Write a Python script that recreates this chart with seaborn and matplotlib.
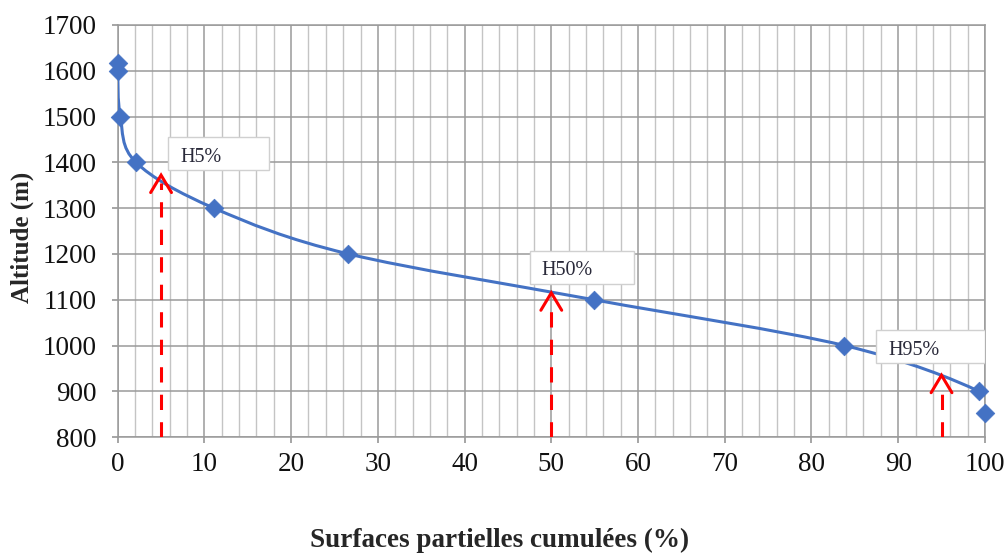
import matplotlib
matplotlib.use("Agg")
import matplotlib.pyplot as plt
import seaborn as sns
import pandas as pd
import numpy as np
from matplotlib.ticker import MultipleLocator
from matplotlib.path import Path
from matplotlib.patches import PathPatch

# Data
surface_pct = [0.0, 0.0, 0.3, 2.1, 11.1, 26.6, 54.9, 83.8, 99.3, 100.0]
altitude_m = [1617, 1600, 1500, 1400, 1300, 1200, 1100, 1000, 900, 852]
marker_labels = ["H5%", "H50%", "H95%"]
marker_x = [5, 50, 95]
marker_top = [1372, 1115, 935]
label_box_x = [5.8, 47.5, 87.5]
label_box_y = [1383, 1135, 962]

sns.set_theme(style="white")
plt.rcParams["font.family"] = ["Liberation Serif", "DejaVu Serif"]

fig = plt.figure(figsize=(10.06, 5.54), dpi=100)
ax = fig.add_axes([0.117, 0.211, 0.862, 0.744])

df = pd.DataFrame({"x": surface_pct, "y": altitude_m})

# smoothed line (Excel-style cubic Bezier through the data points)
pts = df[["x", "y"]].to_numpy(dtype=float)
n = len(pts)
verts = [tuple(pts[0])]
codes = [Path.MOVETO]
for i in range(n - 1):
    p0 = pts[i - 1] if i > 0 else pts[i]
    p1 = pts[i]
    p2 = pts[i + 1]
    p3 = pts[i + 2] if i + 2 < n else pts[i + 1]
    c1 = p1 + (p2 - p0) / 6.0
    c2 = p2 - (p3 - p1) / 6.0
    verts += [tuple(c1), tuple(c2), tuple(p2)]
    codes += [Path.CURVE4] * 3
ax.add_patch(PathPatch(Path(verts, codes), facecolor="none", edgecolor="#4472C4",
                       linewidth=2.2, zorder=3))

sns.scatterplot(data=df, x="x", y="y", ax=ax, color="#4472C4", marker="D", s=90,
                edgecolor="#4472C4", linewidth=0.5, zorder=4, clip_on=False)

# red dashed arrows
for xv, yt in zip(marker_x, marker_top):
    ax.plot([xv, xv], [800, yt - 18], color="red", linestyle=(0, (5, 4)), linewidth=2.2, zorder=4)
    ax.plot([xv - 1.2, xv, xv + 1.2], [yt - 38, yt, yt - 38], color="red", linewidth=2.2, zorder=4,
            solid_joinstyle="miter")

# labels with boxes
box_w = [11.7, 12.0, 12.5]
box_h = 72
for lab, bx, by, bw in zip(marker_labels, label_box_x, label_box_y, box_w):
    rect = plt.Rectangle((bx, by), bw, box_h, facecolor="white", edgecolor="#d0d0d0",
                         linewidth=1.0, zorder=5)
    ax.add_patch(rect)
    ax.text(bx + 1.4, by + box_h / 2 - 8, lab, fontsize=14.5, color="#2a2a3a",
            va="center", ha="left", zorder=6)

ax.set_xlim(0, 100)
ax.set_ylim(800, 1700)
ax.xaxis.set_major_locator(MultipleLocator(10))
ax.xaxis.set_minor_locator(MultipleLocator(2))
ax.yaxis.set_major_locator(MultipleLocator(100))
ax.grid(which="major", color="#9a9a9a", linewidth=1.1)
ax.grid(which="minor", axis="x", color="#c4c4c4", linewidth=1.0)
ax.set_axisbelow(True)
for s in ax.spines.values():
    s.set_color("#9a9a9a")
    s.set_linewidth(1.1)
ax.tick_params(axis="both", which="major", labelsize=19.5, length=4, color="#9a9a9a",
               bottom=True, left=True, labelcolor="#111111")
ax.tick_params(axis="x", which="major", pad=7)
ax.tick_params(axis="y", which="major", pad=11)
ax.tick_params(axis="x", which="minor", bottom=False)
ax.set_xlabel("")
ax.set_ylabel("")

fig.text(0.497, 0.025, "Surfaces partielles cumulées (%)", fontsize=19.5, fontweight="bold",
         ha="center", va="center")
fig.text(0.022, 0.572, "Altitude (m)", fontsize=18, fontweight="bold",
         ha="center", va="center", rotation=90)

fig.savefig("out.png", dpi=100)
